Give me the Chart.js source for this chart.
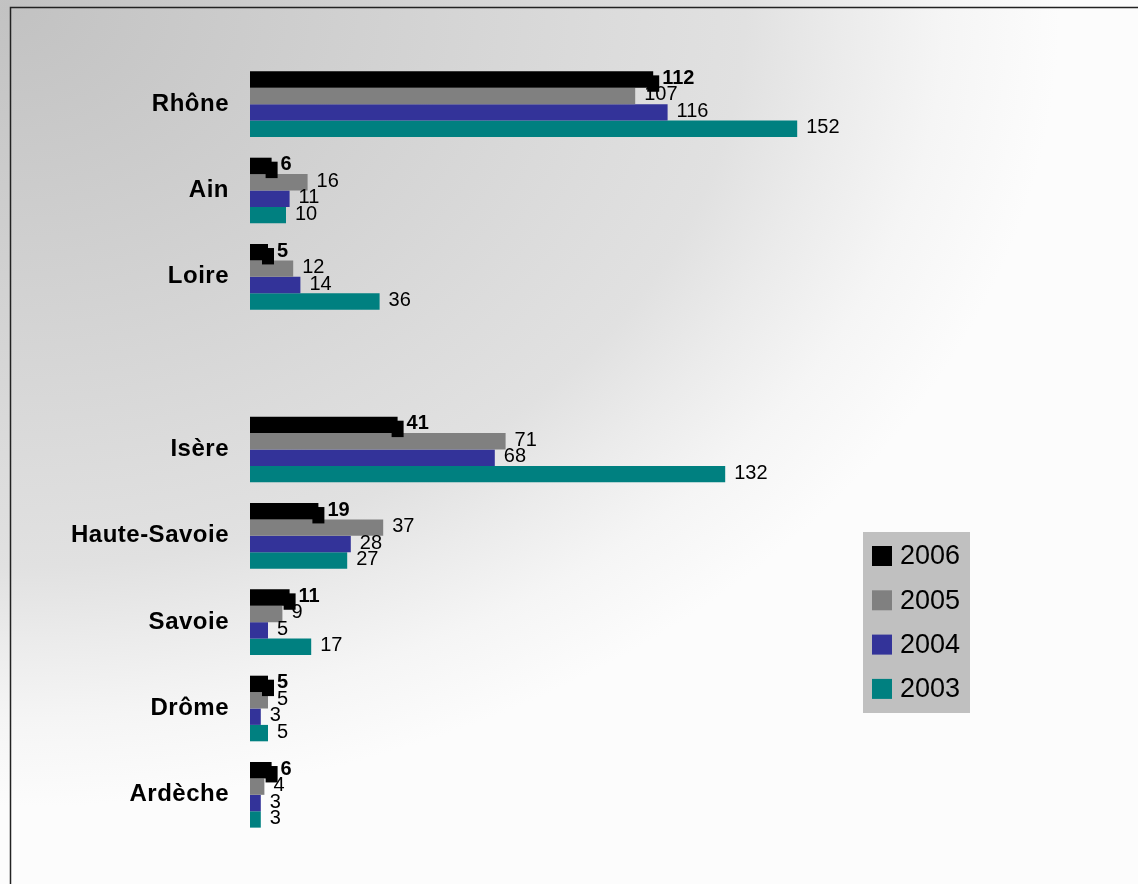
<!DOCTYPE html>
<html>
<head>
<meta charset="utf-8">
<script src="https://cdn.jsdelivr.net/npm/chart.js@4"></script>
<style>
	body { margin: 0; background: #fff; }
	#wrap { width: 1138px; height: 884px; position: relative; }
</style>
</head>
<body>
<div id="wrap"><canvas id="main-chart"></canvas></div>
<script>
// departements (blank slot between Loire and Isère, as in the original)
const departements = ['Rhône', 'Ain', 'Loire', '', 'Isère', 'Haute-Savoie', 'Savoie', 'Drôme', 'Ardèche'];
const years = ['2006', '2005', '2004', '2003'];
const values2006 = [112, 6, 5, null, 41, 19, 11, 5, 6];
const values2005 = [107, 16, 12, null, 71, 37, 9, 5, 4];
const values2004 = [116, 11, 14, null, 68, 28, 5, 3, 3];
const values2003 = [152, 10, 36, null, 132, 27, 17, 5, 3];
const colours = ['#000000', '#808080', '#333399', '#008080'];

// background, frame and the odd black "shadow" blocks
const backdrop = {
	id: 'backdrop',
	beforeDraw(chart) {
		const ctx = chart.ctx;
		ctx.save();
		// elliptical gradient from the top-left corner
		ctx.translate(10, 7);
		ctx.scale(1, 800 / 1050);
		const g = ctx.createRadialGradient(0, 0, 0, 0, 0, 1050);
		g.addColorStop(0, '#c2c2c2');
		g.addColorStop(0.58, '#dcdcdc');
		g.addColorStop(0.70, '#e1e1e1');
		g.addColorStop(0.79, '#ebebeb');
		g.addColorStop(0.89, '#f5f5f5');
		g.addColorStop(1, '#fcfcfc');
		ctx.fillStyle = g;
		ctx.fillRect(-10, -10, chart.width + 20, (chart.height + 20) * 1050 / 800);
		ctx.restore();
		ctx.save();
		ctx.strokeStyle = '#222';
		ctx.lineWidth = 1.5;
		ctx.beginPath();
		ctx.moveTo(10.5, chart.height);
		ctx.lineTo(10.5, 7.5);
		ctx.lineTo(chart.width, 7.5);
		ctx.stroke();
		ctx.restore();
		ctx.letterSpacing = '0.5px';
	},
	beforeDatasetsDraw(chart) {
		chart.ctx.letterSpacing = '0px';
	},
	afterDatasetsDraw(chart) {
		const ctx = chart.ctx;
		ctx.save();
		// shadow block at end of 2006 bars
		const meta0 = chart.getDatasetMeta(0);
		ctx.fillStyle = '#000';
		meta0.data.forEach((bar, i) => {
			if (chart.data.datasets[0].data[i] == null) return;
			const h = bar.height;
			ctx.fillRect(bar.x - 6, bar.y - h / 2 + 4, 12, h);
		});
		// value labels
		chart.data.datasets.forEach((ds, di) => {
			const meta = chart.getDatasetMeta(di);
			ctx.font = (di === 0 ? 'bold ' : '') + '20px "Liberation Sans", Arial, sans-serif';
			ctx.fillStyle = '#000';
			ctx.textBaseline = 'middle';
			ctx.textAlign = 'left';
			meta.data.forEach((bar, i) => {
				const v = ds.data[i];
				if (v == null) return;
				ctx.fillText(String(v), bar.x + 9, bar.y - 1);
			});
		});
		ctx.restore();
	},
	afterDraw(chart) {
		// legend box
		const ctx = chart.ctx;
		ctx.save();
		ctx.fillStyle = '#c0c0c0';
		ctx.fillRect(863, 532, 107, 181);
		ctx.font = '27px "Liberation Sans", Arial, sans-serif';
		ctx.textBaseline = 'middle';
		ctx.textAlign = 'left';
		years.forEach((y, i) => {
			const cy = 556 + i * 44.3;
			ctx.fillStyle = colours[i];
			ctx.fillRect(872, cy - 10, 20, 20);
			ctx.fillStyle = '#000';
			ctx.fillText(y, 900, cy + 1);
		});
		ctx.restore();
	}
};

function make() {
	var ctx = document.getElementById('main-chart');
	const series = [values2006, values2005, values2004, values2003];
	return new Chart(ctx, {
		type: 'bar',
		data: {
			labels: departements,
			datasets: years.map((y, i) => ({
				label: y,
				data: series[i],
				backgroundColor: colours[i],
				borderWidth: 0,
				barPercentage: 1.0,
				categoryPercentage: 0.76
			}))
		},
		options: {
			indexAxis: 'y',
			responsive: false,
			maintainAspectRatio: false,
			animation: false,
			layout: { padding: { left: 0, top: 61, right: 168, bottom: 46 } },
			plugins: {
				legend: { display: false },
				tooltip: { enabled: false }
			},
			scales: {
				x: {
					display: false,
					min: 0,
					max: 200
				},
				y: {
					grid: { display: false, drawTicks: false },
					border: { display: false },
					afterFit(scale) { scale.width = 250; },
					ticks: {
						padding: 21,
						color: '#000',
						font: { family: '"Liberation Sans", Arial, sans-serif', size: 24, weight: 'bold' }
					}
				}
			}
		},
		plugins: [backdrop]
	});
}

const cv = document.getElementById('main-chart');
cv.width = 1138;
cv.height = 884;
cv.style.width = '1138px';
cv.style.height = '884px';
make();
</script>
</body>
</html>
